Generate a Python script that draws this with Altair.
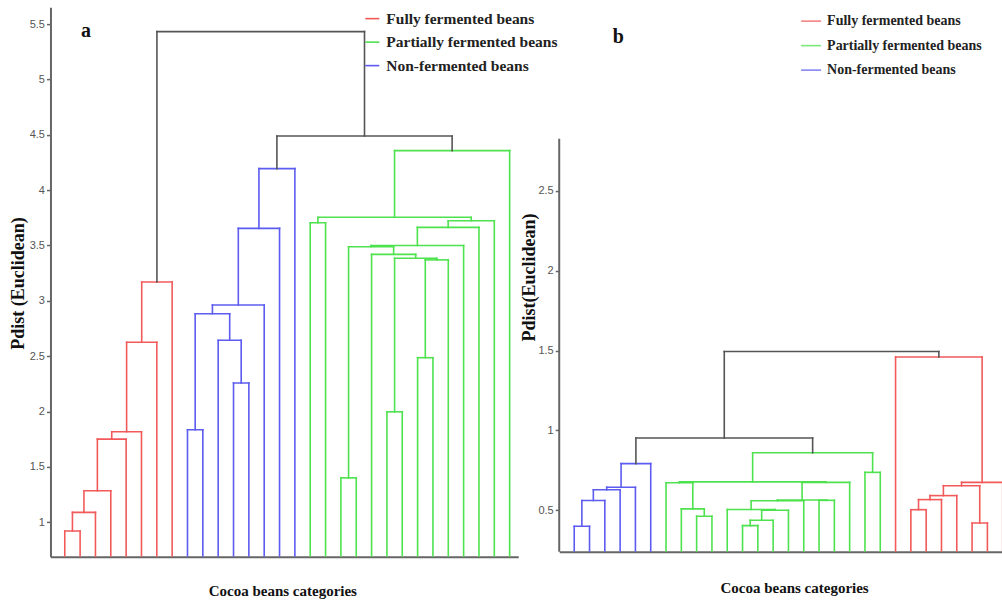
import altair as alt
import pandas as pd

F = "Fully fermented beans"
P = "Partially fermented beans"
N = "Non-fermented beans"
K = "link"
GROUPS = [F, P, N]
GROUP_DOMAIN = [F, P, N, K]
GROUP_COLORS = ["#f25a5a", "#4ee24e", "#5c5cf0", "#555555"]

# ---------------- panel a : 30 leaves, merges in MATLAB linkage style ----------------
a_leaves = 30
a_left = [1, 31, 32, 33, 34, 35, 36,
          9, 12, 11, 38, 41, 42, 43,
          17, 19, 22, 24, 48, 47, 21, 46, 52, 53, 54, 45, 56,
          44, 37]
a_right = [2, 3, 4, 5, 6, 7, 8,
           10, 13, 39, 40, 14, 15, 16,
           18, 20, 23, 25, 26, 49, 50, 51, 27, 28, 29, 55, 30,
           57, 58]
a_height = [0.92, 1.088, 1.283, 1.75, 1.817, 2.625, 3.17,
            1.835, 2.257, 2.643, 2.883, 2.962, 3.655, 4.195,
            3.706, 1.40, 1.997, 2.486, 3.37, 3.385, 3.42, 3.489, 3.50, 3.664, 3.724, 3.755, 4.357,
            4.49, 5.433]
a_group = [F] * 7 + [N] * 7 + [P] * 13 + [K] * 2
a_y_ticks = [1, 1.5, 2, 2.5, 3, 3.5, 4, 4.5, 5, 5.5]
a_x_domain = [0.068, 30.56]
a_y_domain = [0.686, 5.654]

# ---------------- panel b : 29 leaves ----------------
b_leaves = 29
b_left = [1, 30, 31, 32, 33,
          9, 8, 12, 37, 38, 11, 40, 17, 41, 7, 43, 44, 20, 46,
          34,
          23, 50, 51, 27, 52, 54, 22,
          49]
b_right = [2, 3, 4, 5, 6,
           10, 35, 13, 14, 15, 39, 16, 18, 42, 36, 19, 45, 21, 47,
           48,
           24, 25, 26, 28, 53, 29, 55,
           56]
b_height = [0.40, 0.561, 0.629, 0.644, 0.792,
            0.4625, 0.509, 0.404, 0.4375, 0.500, 0.505, 0.560, 0.5625, 0.565, 0.672, 0.675, 0.678, 0.7375, 0.86,
            0.952,
            0.504, 0.567, 0.592, 0.421, 0.654, 0.675, 1.459,
            1.494]
b_group = [N] * 5 + [P] * 14 + [K] + [F] * 7 + [K]
b_y_ticks = [0.5, 1, 1.5, 2, 2.5]
b_x_domain = [0.02, 28.955]
b_y_domain = [0.24, 3.648]
b_axis_top = 2.825

TITLE_FONT = "Liberation Serif"
LABEL_FONT = "Liberation Sans"


def segments(n, left, right, height, group):
    pos = {i: (float(i), 0.0) for i in range(1, n + 1)}
    rows = []
    for k, (l, r, h, g) in enumerate(zip(left, right, height, group)):
        xl, hl = pos[l]
        xr, hr = pos[r]
        rows.append(dict(x=xl, x2=xl, y=hl, y2=h, grp=g))
        rows.append(dict(x=xr, x2=xr, y=hr, y2=h, grp=g))
        rows.append(dict(x=xl, x2=xr, y=h, y2=h, grp=g))
        pos[n + 1 + k] = ((xl + xr) / 2.0, h)
    return pd.DataFrame(rows)


def panel(df, xdom, ydom, yticks, width, height, ytitle, ytx, yty, xty, xtx,
          show_ydomain, legend_kw, label, label_xy):
    xaxis = alt.Axis(title="Cocoa beans categories", labels=False, ticks=False, grid=False,
                     domainColor="#666666", domainWidth=2,
                     titleFont=TITLE_FONT, titleFontWeight="bold", titleFontSize=15,
                     titleColor="#111111", titleBaseline="middle", titleY=xty, titleX=xtx)
    yaxis = alt.Axis(title=ytitle, values=yticks, format=".1~f", grid=False,
                     domain=show_ydomain, domainColor="#666666", domainWidth=2,
                     tickColor="#666666", tickWidth=1.5, tickSize=4,
                     labelFont=LABEL_FONT, labelFontSize=11, labelColor="#555555", labelPadding=2,
                     titleFont=TITLE_FONT, titleFontWeight="bold", titleFontSize=18,
                     titleColor="#111111", titleAngle=270, titleAlign="center",
                     titleBaseline="middle", titleX=ytx, titleY=yty)
    legend = alt.Legend(values=GROUPS, orient="none", title=None, symbolType="stroke",
                        symbolStrokeWidth=1.6, labelFont=TITLE_FONT, labelFontWeight="bold",
                        labelColor="#222222", padding=0, labelLimit=400, **legend_kw)
    rules = alt.Chart(df).mark_rule(clip=True, strokeWidth=1.6, strokeCap="square").encode(
        x=alt.X("x:Q", scale=alt.Scale(domain=xdom, nice=False, zero=False), axis=xaxis),
        x2="x2",
        y=alt.Y("y:Q", scale=alt.Scale(domain=ydom, nice=False, zero=False), axis=yaxis),
        y2="y2",
        color=alt.Color("grp:N", scale=alt.Scale(domain=GROUP_DOMAIN, range=GROUP_COLORS),
                        legend=legend),
    )
    lab = alt.Chart(pd.DataFrame({"t": [label]})).mark_text(
        font=TITLE_FONT, fontWeight="bold", fontSize=20, baseline="middle", align="center",
        color="#111111").encode(text="t:N", x=alt.value(label_xy[0]), y=alt.value(label_xy[1]))
    layers = [rules, lab]
    if not show_ydomain:
        axline = alt.Chart(pd.DataFrame({"y": [ydom[0]], "y2": [b_axis_top]})).mark_rule(
            color="#666666", strokeWidth=2).encode(x=alt.value(0), y="y:Q", y2="y2")
        layers.append(axline)
    return alt.layer(*layers).properties(width=width, height=height)


chart_a = panel(segments(a_leaves, a_left, a_right, a_height, a_group),
                a_x_domain, a_y_domain, a_y_ticks, 468, 550,
                "Pdist (Euclidean)", -31.5, 276, 34, 232, True,
                dict(legendX=314, legendY=3.5, symbolSize=196, labelFontSize=15.5,
                     labelOffset=6, rowPadding=6.5),
                "a", (35.5, 24))

chart_b = panel(segments(b_leaves, b_left, b_right, b_height, b_group),
                b_x_domain, b_y_domain, b_y_ticks, 443, 545,
                "Pdist(Euclidean)", -30, 270, 36, 235, False,
                dict(legendX=241, legendY=3, symbolSize=400, labelFontSize=14,
                     labelOffset=5, rowPadding=6.5, symbolOpacity=0.75),
                "b", (59, 30))

chart = alt.hconcat(chart_a, chart_b, spacing=41, bounds="flush").resolve_scale(
    color="independent"
).properties(
    padding={"left": 9.5, "top": 7, "right": 0, "bottom": 0},
    background="white",
).configure_view(strokeWidth=0, stroke="transparent")

chart.save("out.html", embed_options={"renderer": "svg", "actions": False})
